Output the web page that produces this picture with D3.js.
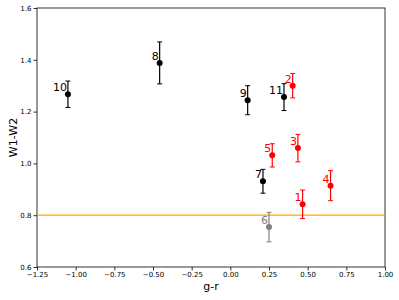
<!DOCTYPE html>
<meta charset="utf-8">
<script src="https://d3js.org/d3.v7.min.js"></script>
<style>
body { margin: 0; background: #fff; }
svg { font-family: "DejaVu Sans", sans-serif; }
</style>
<body>
<div id="vis"></div>
<script>

// source ids, colours and measured values
var ids   = ["1", "2", "3", "4", "5", "6", "7", "8", "9", "10", "11"];
var group = ["a", "a", "a", "a", "a", "c", "b", "b", "b", "b", "b"];
var gr    = [0.467, 0.403, 0.437, 0.648, 0.271, 0.25, 0.211, -0.457, 0.112, -1.05, 0.347];
var w1w2  = [0.842, 1.300, 1.059, 0.914, 1.031, 0.754, 0.931, 1.388, 1.244, 1.267, 1.256];
var err   = [0.055, 0.047, 0.053, 0.058, 0.045, 0.057, 0.046, 0.081, 0.056, 0.051, 0.052];
var cutoff = 0.8;
var xTicks = [-1.25, -1.0, -0.75, -0.5, -0.25, 0.0, 0.25, 0.5, 0.75, 1.0];
var yTicks = [0.6, 0.8, 1.0, 1.2, 1.4, 1.6];

var width = 399, height = 300;
var margin = {top: 8, right: 14, bottom: 33, left: 37};

var color = d3.scaleOrdinal()
  .domain(["a", "b", "c"])
  .range(["#ff0000", "#000000", "#808080"]);

var x = d3.scaleLinear().domain([-1.25, 1.0]).range([margin.left, width - margin.right]);
var y = d3.scaleLinear().domain([0.6, 1.6]).range([height - margin.bottom, margin.top]);

var svg = d3.select("#vis").append("svg")
  .attr("width", width)
  .attr("height", height);

var data = ids.map(function(d, i) {
  return {id: d, g: group[i], x: gr[i], y: w1w2[i], e: err[i]};
});

var fmt = function(d) { return d3.format(".2f")(d).replace("-", "\u2212"); };

var xAxis = svg.append("g")
  .attr("transform", "translate(0," + y.range()[0] + ")")
  .call(d3.axisBottom(x).tickValues(xTicks).tickFormat(fmt).tickSize(3.5).tickPadding(2));
var yAxis = svg.append("g")
  .attr("transform", "translate(" + x.range()[0] + ",0)")
  .call(d3.axisLeft(y).tickValues(yTicks).tickFormat(d3.format(".1f")).tickSize(3.5).tickPadding(2));

[xAxis, yAxis].forEach(function(a) {
  a.select(".domain").remove();
  a.selectAll("text").attr("font-size", 7).attr("fill", "#000").attr("font-family", "DejaVu Sans");
  a.selectAll("line").attr("stroke", "#000").attr("stroke-width", 0.8);
});

// frame
svg.append("rect")
  .attr("x", x.range()[0])
  .attr("y", y.range()[1])
  .attr("width", x.range()[1] - x.range()[0])
  .attr("height", y.range()[0] - y.range()[1])
  .attr("fill", "none")
  .attr("stroke", "#000")
  .attr("stroke-width", 0.8);

// threshold line
svg.append("line")
  .attr("x1", x.range()[0])
  .attr("x2", x.range()[1])
  .attr("y1", y(cutoff))
  .attr("y2", y(cutoff))
  .attr("stroke", "#ffa500")
  .attr("stroke-width", 1.2);

var pts = svg.selectAll(".pt")
  .data(data)
  .enter().append("g")
  .attr("class", "pt")
  .style("stroke", function(d) { return color(d.g); })
  .style("fill", function(d) { return color(d.g); });

pts.append("line")
  .attr("x1", function(d) { return x(d.x); })
  .attr("x2", function(d) { return x(d.x); })
  .attr("y1", function(d) { return y(d.y - d.e); })
  .attr("y2", function(d) { return y(d.y + d.e); })
  .attr("stroke-width", 1.2);

[-1, 1].forEach(function(s) {
  pts.append("line")
    .attr("x1", function(d) { return x(d.x) - 2.5; })
    .attr("x2", function(d) { return x(d.x) + 2.5; })
    .attr("y1", function(d) { return y(d.y + s * d.e); })
    .attr("y2", function(d) { return y(d.y + s * d.e); })
    .attr("stroke-width", 1);
});

pts.append("circle")
  .attr("cx", function(d) { return x(d.x); })
  .attr("cy", function(d) { return y(d.y); })
  .attr("r", 3)
  .style("stroke", "none");

pts.append("text")
  .attr("x", function(d) { return x(d.x) - 1; })
  .attr("y", function(d) { return y(d.y) - 3; })
  .attr("text-anchor", "end")
  .attr("font-size", 11)
  .style("stroke", "none")
  .text(function(d) { return d.id; });

// axis labels
svg.append("text")
  .attr("x", (x.range()[0] + x.range()[1]) / 2)
  .attr("y", 290)
  .attr("text-anchor", "middle")
  .attr("font-size", 11)
  .text("g-r");

svg.append("text")
  .attr("transform", "translate(17," + (y.range()[0] + y.range()[1]) / 2 + ") rotate(-90)")
  .attr("text-anchor", "middle")
  .attr("font-size", 11)
  .text("W1-W2");

</script>
</body>
